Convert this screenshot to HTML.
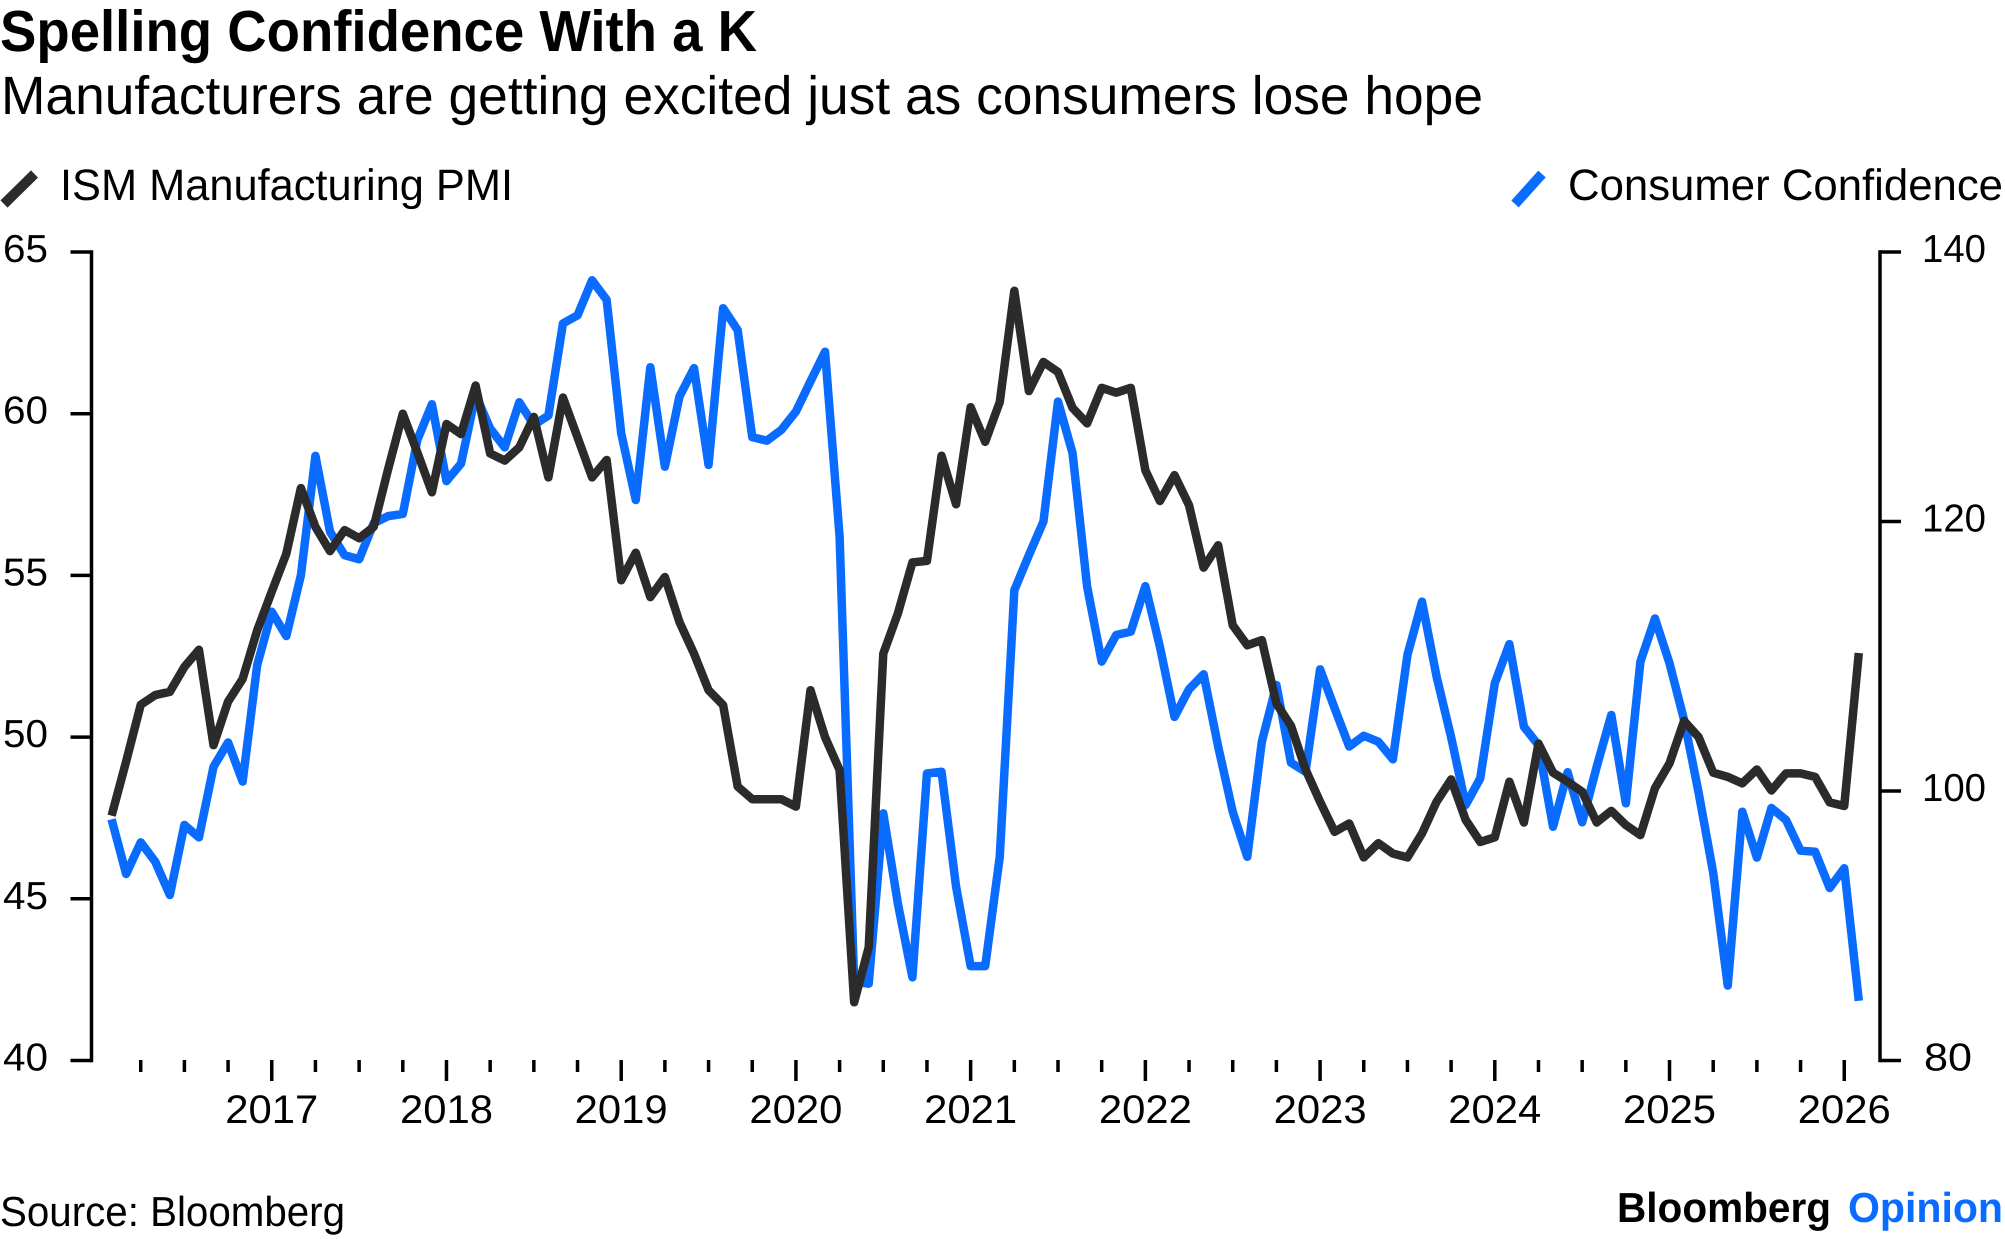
<!DOCTYPE html>
<html lang="en">
<head>
<meta charset="utf-8">
<title>Spelling Confidence With a K</title>
<style>
html,body{margin:0;padding:0;background:#fff;}
svg{display:block;}
text{font-family:"Liberation Sans",sans-serif;fill:#000;text-rendering:geometricPrecision;}
</style>
</head>
<body>
<svg id="chart" xmlns="http://www.w3.org/2000/svg" width="2005" height="1239" viewBox="0 0 2005 1239">
  <rect x="0" y="0" width="2005" height="1239" fill="#ffffff"/>
  <text x="0" y="51" font-size="58" font-weight="700" textLength="757" lengthAdjust="spacingAndGlyphs">Spelling Confidence With a K</text>
  <text x="1" y="114" font-size="54" textLength="1482" lengthAdjust="spacingAndGlyphs">Manufacturers are getting excited just as consumers lose hope</text>
  <line x1="4" y1="204" x2="34.5" y2="174" stroke="#2b2b2b" stroke-width="10"/>
  <text x="60" y="200" font-size="44" textLength="453" lengthAdjust="spacingAndGlyphs">ISM Manufacturing PMI</text>
  <line x1="1515" y1="204" x2="1542" y2="174" stroke="#0a6cff" stroke-width="10"/>
  <text x="1568" y="200" font-size="44" textLength="435" lengthAdjust="spacingAndGlyphs">Consumer Confidence</text>
  <g id="axes"></g>
  <g id="series"></g>
  <text x="0" y="1226" font-size="42" textLength="345" lengthAdjust="spacingAndGlyphs">Source: Bloomberg</text>
  <text x="1617" y="1222" font-size="42" font-weight="700" textLength="214" lengthAdjust="spacingAndGlyphs">Bloomberg</text>
  <text x="1848" y="1222" font-size="42" font-weight="700" style="fill:#0a6cff" textLength="155" lengthAdjust="spacingAndGlyphs">Opinion</text>
</svg>
<script>
// Monthly observations, Feb 2016 through Feb 2026
const ismValues = [
47.57,49.25,51.0,51.3,51.4,52.17,52.7,49.75,51.1,51.8,53.3,54.5,
55.67,57.7,56.5,55.75,56.4,56.15,56.5,58.3,60.0,58.8,57.57,59.68,
59.37,60.87,58.77,58.55,58.96,59.9,58.03,60.5,59.27,58.03,58.57,54.85,
55.7,54.33,54.95,53.56,52.58,51.45,50.99,48.47,48.08,48.08,48.08,47.85,
51.45,50.0,48.98,41.8,43.5,52.58,53.82,55.4,55.45,58.7,57.2,60.2,
59.13,60.36,63.8,60.7,61.6,61.29,60.18,59.7,60.8,60.65,60.8,58.25,
57.3,58.1,57.17,55.24,55.93,53.46,52.84,53.0,51.04,50.35,49.0,48.0,
47.07,47.33,46.28,46.72,46.4,46.28,47.02,48.0,48.69,47.44,46.76,46.9,
48.62,47.36,49.8,48.9,48.62,48.31,47.36,47.72,47.28,46.97,48.42,49.19,
50.5,50.0,48.9,48.77,48.57,49.0,48.35,48.88,48.88,48.77,47.98,47.87,
52.6];
const confidenceValues = [
97.9,93.84,96.19,94.75,92.28,97.48,96.56,101.8,103.6,100.7,109.35,113.3,
111.5,116.0,124.87,119.25,117.5,117.2,119.87,120.4,120.56,126.06,128.7,123.0,
124.3,129.4,126.9,125.5,128.85,127.17,127.86,134.7,135.3,137.9,136.45,126.55,
121.6,131.45,124.07,129.27,131.38,124.2,135.83,134.2,126.26,126.0,126.8,128.16,
130.4,132.6,118.88,85.84,85.7,98.34,91.66,86.17,101.3,101.43,92.9,87.0,
87.0,95.12,114.9,117.5,120.0,128.9,125.07,115.17,109.6,111.58,111.83,115.2,
110.7,105.5,107.55,108.66,103.3,98.46,95.12,103.66,107.87,102.1,101.43,109.03,
106.14,103.3,104.1,103.66,102.35,110.1,114.05,108.5,104.0,98.96,100.94,108.0,
110.9,104.77,103.4,97.35,101.39,97.68,101.8,105.64,99.09,109.6,112.8,109.48,
105.27,99.87,93.93,85.56,98.46,95.06,98.74,97.85,95.57,95.49,92.8,94.27,
84.43];
const leftTicks = [40,45,50,55,60,65];
const rightTicks = [80,100,120,140];
const yearLabels = ["2017","2018","2019","2020","2021","2022","2023","2024","2025","2026"];
const yearTickStart = 11;

const plotLeft = 111.6, monthStep = 14.56;
const leftTop = 252, leftBottom = 1060.5;
const leftAxisX = 91.5, rightAxisX = 1880;
const svgNS = "http://www.w3.org/2000/svg";

function xAt(i){ return plotLeft + i * monthStep; }
function yLeft(v){ return leftBottom - (v - leftTicks[0]) / (leftTicks[leftTicks.length-1] - leftTicks[0]) * (leftBottom - leftTop); }
function yRight(v){ return leftBottom - (v - rightTicks[0]) / (rightTicks[rightTicks.length-1] - rightTicks[0]) * (leftBottom - leftTop); }

function mk(tag, attrs, parent, txt){
  const el = document.createElementNS(svgNS, tag);
  for (const k in attrs) el.setAttribute(k, attrs[k]);
  if (txt !== undefined) el.textContent = txt;
  parent.appendChild(el);
  return el;
}

const axes = document.getElementById("axes");
const seriesGroup = document.getElementById("series");
const axisStyle = {stroke:"#000", "stroke-width":3.5, fill:"none"};

const leftAxis = mk("line", Object.assign({x1:leftAxisX,x2:leftAxisX,y1:yLeft(65)-1.75,y2:yLeft(40)+1.75}, axisStyle), axes);



const rightAxis = mk("line", Object.assign({x1:rightAxisX,x2:rightAxisX,y1:yRight(140)-1.75,y2:yRight(80)+1.75}, axisStyle), axes);



leftTicks.forEach(function(v){
  const y = yLeft(v);
  const t = mk("line", Object.assign({x1:70.5,x2:leftAxisX,y1:y,y2:y}, axisStyle), axes);
  
  
  const l = mk("text", {x:48,y:y+10,"font-size":39,"text-anchor":"end",textLength:45,lengthAdjust:"spacingAndGlyphs"}, axes, String(v));
  
  
});

rightTicks.forEach(function(v){
  const y = yRight(v);
  const t = mk("line", Object.assign({x1:rightAxisX,x2:1901,y1:y,y2:y}, axisStyle), axes);
  
  
  const s = String(v);
  const l = mk("text", {x:s.length===3?1922:1924,y:y+10,"font-size":39,textLength:s.length===3?64:48,lengthAdjust:"spacingAndGlyphs"}, axes, s);
  
  
});

for (let i = yearTickStart % 3; i < ismValues.length; i += 3) {
  const major = (i - yearTickStart) % 12 === 0;
  const t = mk("line", Object.assign({x1:xAt(i),x2:xAt(i),y1:1060,y2:major?1081:1072}, axisStyle), axes);
  
  
}

yearLabels.forEach(function(label, k){
  const x = xAt(yearTickStart + k * 12);
  const l = mk("text", {x:x,y:1123,"font-size":40,"text-anchor":"middle",textLength:93,lengthAdjust:"spacingAndGlyphs"}, axes, label);
  
  
});

function linePath(values, yFn){
  return values.map(function(v, i){ return (i ? "L" : "M") + xAt(i).toFixed(2) + " " + yFn(v).toFixed(2); }).join(" ");
}

const blueLine = mk("path", {d:linePath(confidenceValues, yRight),fill:"none",stroke:"#0a6cff","stroke-width":8.5,"stroke-linejoin":"round"}, seriesGroup);



const blackLine = mk("path", {d:linePath(ismValues, yLeft),fill:"none",stroke:"#2b2b2b","stroke-width":8.5,"stroke-linejoin":"round"}, seriesGroup);


</script>
</body>
</html>
